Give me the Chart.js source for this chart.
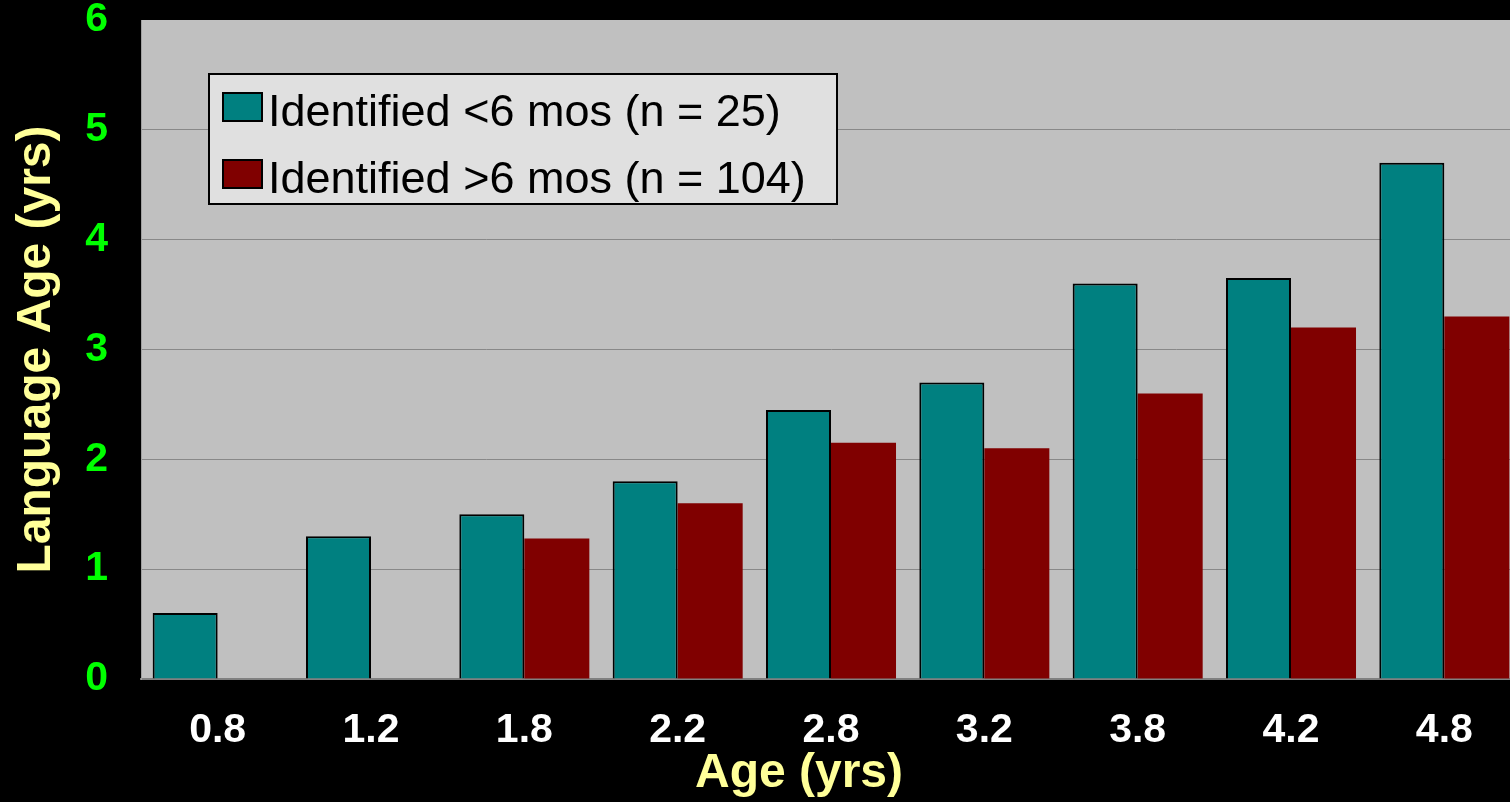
<!DOCTYPE html>
<html>
<head>
<meta charset="utf-8">
<script src="https://cdn.jsdelivr.net/npm/chart.js@4.4.1/dist/chart.umd.min.js"></script>
<style>
  html, body { margin: 0; padding: 0; background: #000; overflow: hidden; }
  #wrap { width: 1510px; height: 802px; overflow: hidden; }
</style>
</head>
<body>
<div id="wrap"><canvas id="chart" width="1530" height="802"></canvas></div>
<script>
// --- DATA ---
const ages = ["0.8", "1.2", "1.8", "2.2", "2.8", "3.2", "3.8", "4.2", "4.8"];
const earlyLabel = "Identified <6 mos (n = 25)";
const lateLabel = "Identified >6 mos (n = 104)";
const earlyValues = [0.6, 1.3, 1.5, 1.8, 2.45, 2.7, 3.6, 3.65, 4.7];
const lateValues = [null, null, 1.28, 1.6, 2.15, 2.1, 2.6, 3.2, 3.3];
const yTicks = [0, 1, 2, 3, 4, 5, 6];

const FONT = '"Liberation Sans", Arial, sans-serif';

// background, in-plot legend and x title
const slidePlugin = {
  id: "slide",
  beforeDraw(chart) {
    const { ctx, chartArea: a } = chart;
    ctx.save();
    ctx.fillStyle = "#000";
    ctx.fillRect(0, 0, chart.width, chart.height);
    ctx.fillStyle = "#C0C0C0";
    ctx.fillRect(a.left, a.top, a.right - a.left, a.bottom - a.top);
    ctx.restore();
  },
  afterDraw(chart) {
    const { ctx, chartArea: a } = chart;
    ctx.save();
    // legend box
    const bx = a.left + 68, by = a.top + 54, bw = 628, bh = 130;
    ctx.fillStyle = "#E0E0E0";
    ctx.fillRect(bx, by, bw, bh);
    ctx.strokeStyle = "#000";
    ctx.lineWidth = 2;
    ctx.strokeRect(bx, by, bw, bh);
    ctx.font = "45px " + FONT;
    ctx.textBaseline = "alphabetic";
    chart.data.datasets.forEach((ds, i) => {
      const rowY = by + 19 + i * 67;
      ctx.fillStyle = ds.backgroundColor;
      ctx.fillRect(bx + 14, rowY, 39, 28);
      ctx.strokeStyle = "#000";
      ctx.lineWidth = 2;
      ctx.strokeRect(bx + 14, rowY, 39, 28);
      ctx.fillStyle = "#000";
      ctx.fillText(ds.label, bx + 59, rowY + 33);
    });
    // x axis title
    ctx.fillStyle = "#FFFF99";
    ctx.font = "bold 48px " + FONT;
    ctx.textAlign = "center";
    ctx.textBaseline = "middle";
    ctx.fillText("Age (yrs)", 799, 774);
    ctx.restore();
  },
};

const ctx = document.getElementById("chart").getContext("2d");
new Chart(ctx, {
  type: "bar",
  data: {
    labels: ages,
    datasets: [
      {
        label: earlyLabel,
        data: earlyValues,
        backgroundColor: "#008080",
        borderColor: "#000",
        borderWidth: 2,
      },
      {
        label: lateLabel,
        data: lateValues,
        backgroundColor: "#800000",
        borderWidth: 0,
      },
    ],
  },
  options: {
    responsive: false,
    devicePixelRatio: 1,
    animation: false,
    categoryPercentage: 0.848,
    barPercentage: 1,
    layout: { padding: { top: 20, right: 9, bottom: 0, left: 0 } },
    plugins: { legend: { display: false }, tooltip: { enabled: false } },
    scales: {
      x: {
        grid: { display: false, drawTicks: false },
        border: { color: "#808080", width: 2 },
        ticks: {
          color: "#FFFFFF",
          font: { family: FONT, size: 41, weight: "bold" },
          padding: 27,
        },
        afterFit: (s) => { s.height = 123; s.paddingLeft = 0; s.paddingRight = 0; },
      },
      y: {
        min: 0,
        max: 6,
        afterBuildTicks: (s) => { s.ticks = yTicks.map((v) => ({ value: v })); },
        grid: {
          drawTicks: false,
          color: (c) => (c.tick && c.tick.value > 0 && c.tick.value < 6 ? "#888888" : "rgba(0,0,0,0)"),
          lineWidth: 1,
        },
        border: { color: "#A0A0A0", width: 1 },
        ticks: {
          color: "#00FF00",
          font: { family: FONT, size: 41, weight: "bold" },
          padding: 33,
        },
        title: {
          display: true,
          text: "Language Age (yrs)",
          color: "#FFFF99",
          font: { family: FONT, size: 48, weight: "bold" },
          padding: { top: 8, bottom: 0 },
        },
        afterFit: (s) => { s.width = 141; s.paddingTop = 0; s.paddingBottom = 0; },
      },
    },
  },
  plugins: [slidePlugin],
});
</script>
</body>
</html>
